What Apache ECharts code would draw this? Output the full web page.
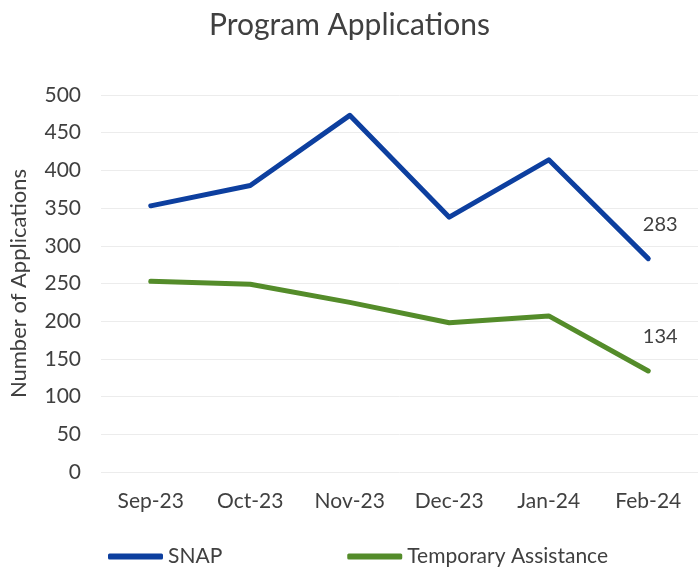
<!DOCTYPE html>
<html>
<head>
<meta charset="utf-8">
<script src="https://cdn.jsdelivr.net/npm/echarts@6/dist/echarts.min.js"></script>
<style>
  html, body { margin: 0; padding: 0; background: #fff; }
  #main { width: 699px; height: 577px; }
</style>
</head>
<body>
<div id="main"></div>
<script>
// months on the x axis
var months = ['Sep-23', 'Oct-23', 'Nov-23', 'Dec-23', 'Jan-24', 'Feb-24'];
// applications per month
var snap = [353, 380, 473, 338, 414, 283];
var tempAssistance = [253, 249, 225, 198, 207, 134];

var font = 'Lato, "Open Sans", sans-serif';

// only the last point carries a value label
function withEndLabel(values) {
    return values.map(function (v, i) {
        if (i !== values.length - 1) {
            return v;
        }
        return {
            value: v,
            label: {
                show: true,
                position: 'top',
                distance: 24,
                offset: [12, 0],
                color: '#404040',
                fontSize: 20,
                fontFamily: font
            }
        };
    });
}

var chart = echarts.init(document.getElementById('main'));

chart.setOption({
    animation: false,
    backgroundColor: '#fff',
    title: {
        text: 'Program Applications',
        left: 'center',
        top: 5,
        textStyle: {
            color: '#404040',
            fontSize: 30,
            fontWeight: 'normal',
            fontFamily: font
        }
    },
    grid: {
        left: 98,
        right: 1,
        top: 95,
        bottom: 105,
        containLabel: false
    },
    legend: {
        bottom: 5,
        left: 103,
        itemWidth: 55,
        itemHeight: 6,
        itemGap: 125,
        icon: 'roundRect',
        textStyle: {
            color: '#404040',
            fontSize: 21,
            fontFamily: font
        },
        data: ['SNAP', 'Temporary Assistance']
    },
    xAxis: {
        type: 'category',
        data: months,
        boundaryGap: true,
        axisLine: { show: false },
        axisTick: { show: false },
        axisLabel: {
            color: '#404040',
            fontSize: 21,
            fontFamily: font,
            margin: 19
        }
    },
    yAxis: {
        type: 'value',
        min: 0,
        max: 500,
        interval: 50,
        name: 'Number of Applications',
        nameLocation: 'middle',
        nameGap: 71,
        nameRotate: 90,
        nameTextStyle: {
            color: '#404040',
            fontSize: 22,
            fontFamily: font
        },
        axisLine: { show: false },
        axisTick: { show: false },
        axisLabel: {
            color: '#404040',
            fontSize: 21,
            fontFamily: font,
            margin: 20
        },
        splitLine: {
            lineStyle: { color: '#ececec', width: 1 }
        }
    },
    series: [
        {
            name: 'SNAP',
            type: 'line',
            data: withEndLabel(snap),
            symbol: 'circle',
            symbolSize: 0,
            showSymbol: true,
            color: '#0d3f9f',
            lineStyle: { width: 5, color: '#0d3f9f', cap: 'round', join: 'round' }
        },
        {
            name: 'Temporary Assistance',
            type: 'line',
            data: withEndLabel(tempAssistance),
            symbol: 'circle',
            symbolSize: 0,
            showSymbol: true,
            color: '#548c2a',
            lineStyle: { width: 5, color: '#548c2a', cap: 'round', join: 'round' }
        }
    ]
});
</script>
</body>
</html>
